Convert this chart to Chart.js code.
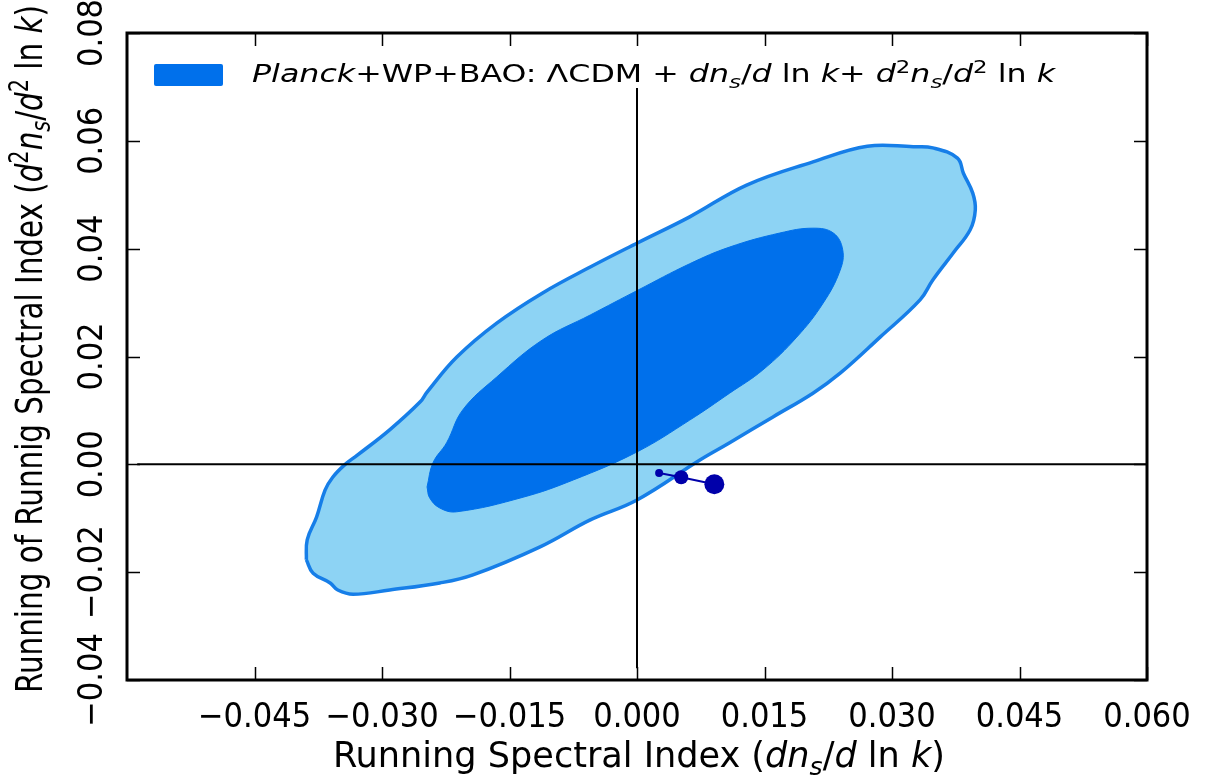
<!DOCTYPE html>
<html>
<head>
<meta charset="utf-8">
<script src="https://cdn.jsdelivr.net/npm/chart.js@4.4.1/dist/chart.umd.min.js"></script>
<style>
  html, body { margin: 0; padding: 0; background: #fff; }
  #wrap { position: relative; width: 1215px; height: 781px; }
</style>
</head>
<body>
<div id="wrap"><canvas id="runningChart"></canvas></div>
<script>
const xTicks = [-0.045, -0.030, -0.015, 0.000, 0.015, 0.030, 0.045, 0.060];
const yTicks = [-0.04, -0.02, 0.00, 0.02, 0.04, 0.06, 0.08];

// 95% region boundary
const outerX = [-0.0389, -0.0388, -0.0377, -0.0367, -0.0358, -0.0344, -0.0329, -0.0291, -0.0255, -0.0247,
  -0.0212, -0.0165, -0.0111, -0.0055, 0.0001, 0.0062, 0.0129, 0.0207, 0.0271, 0.0325,
  0.0348, 0.0377, 0.0384, 0.0395, 0.0398, 0.0392, 0.0372, 0.0348, 0.0333, 0.0286,
  0.0239, 0.0207, 0.0160, 0.0109, 0.0074, 0.0000, -0.0055, -0.0114, -0.0193, -0.0232,
  -0.0291, -0.0334, -0.0352, -0.0361, -0.0381];
const outerY = [-0.0177, -0.0140, -0.0098, -0.0048, -0.0024, -0.0001, 0.0017, 0.0064, 0.0116, 0.0134,
  0.0199, 0.0262, 0.0318, 0.0366, 0.0411, 0.0459, 0.0518, 0.0561, 0.0590, 0.0589,
  0.0587, 0.0568, 0.0540, 0.0503, 0.0472, 0.0435, 0.0392, 0.0342, 0.0305, 0.0236,
  0.0169, 0.0132, 0.0088, 0.0040, 0.0008, -0.0066, -0.0103, -0.0153, -0.0205, -0.0220,
  -0.0233, -0.0241, -0.0233, -0.0220, -0.0202];

// 68% region boundary
const innerX = [-0.0247, -0.0244, -0.0232, -0.0212, -0.0134, -0.0075, 0.0000, 0.0062, 0.0109, 0.0148,
  0.0188, 0.0219, 0.0239, 0.0242, 0.0231, 0.0207, 0.0168, 0.0109, 0.0062, 0.0001,
  -0.0055, -0.0111, -0.0165, -0.0205, -0.0224, -0.0240];
const innerY = [-0.0042, -0.0062, -0.0081, -0.0088, -0.0061, -0.0029, 0.0023, 0.0082, 0.0132, 0.0175,
  0.0236, 0.0299, 0.0360, 0.0398, 0.0429, 0.0438, 0.0429, 0.0403, 0.0372, 0.0323,
  0.0277, 0.0231, 0.0162, 0.0101, 0.0040, 0.0003];

// model predictions
const modelX = [0.0026, 0.0052, 0.0091];
const modelY = [-0.0016, -0.0024, -0.0037];

// zero reference lines
const hLineX = [-0.0588, 0.060];
const vLineY = [-0.0378, 0.0698];

const FONT = "'DejaVu Sans Condensed', 'DejaVu Sans', sans-serif";

function closed(xs, ys) {
  const pts = xs.map((x, i) => ({ x: x, y: ys[i] }));
  pts.push({ x: xs[0], y: ys[0] });
  return pts;
}

function fmt(v, digits) {
  return v.toFixed(digits).replace('-', '\u2212');
}

function fontFor(s, size) {
  if (s === 'i') return 'italic ' + size + 'px ' + FONT;
  if (s === 'sub') return 'italic ' + Math.round(size * 0.7) + 'px ' + FONT;
  if (s === 'sup') return Math.round(size * 0.7) + 'px ' + FONT;
  return size + 'px ' + FONT;
}

// text made of normal / italic / sub / sup pieces
function richWidth(ctx, parts, size) {
  let w = 0;
  parts.forEach(([t, s]) => {
    ctx.font = fontFor(s, size);
    w += ctx.measureText(t).width;
  });
  return w;
}

// fitW squeezes the whole run to a given width
function drawRich(ctx, parts, x, y, size, align, fitW) {
  const w = richWidth(ctx, parts, size);
  const sx = fitW ? fitW / w : 1;
  const x0 = align === 'center' ? x - (w * sx) / 2 : x;
  ctx.save();
  ctx.translate(x0, y);
  ctx.scale(sx, 1);
  ctx.textAlign = 'left';
  ctx.textBaseline = 'alphabetic';
  let cx = 0;
  parts.forEach(([t, s]) => {
    ctx.font = fontFor(s, size);
    let dy = 0;
    if (s === 'sub') dy = size * 0.22;
    if (s === 'sup') dy = -size * 0.38;
    ctx.fillText(t, cx, dy);
    cx += ctx.measureText(t).width;
  });
  ctx.restore();
}

const legendParts = [['Planck', 'i'], ['+WP+BAO: \u039BCDM + ', 'n'], ['dn', 'i'], ['s', 'sub'], ['/', 'n'],
  ['d', 'i'], [' ln ', 'n'], ['k', 'i'], ['+ ', 'n'], ['d', 'i'], ['2', 'sup'], ['n', 'i'], ['s', 'sub'],
  ['/', 'n'], ['d', 'i'], ['2', 'sup'], [' ln ', 'n'], ['k', 'i']];
const xTitleParts = [['Running Spectral Index (', 'n'], ['dn', 'i'], ['s', 'sub'], ['/', 'n'], ['d', 'i'],
  [' ln ', 'n'], ['k', 'i'], [')', 'n']];
const yTitleParts = [['Running of Runnig Spectral Index (', 'n'], ['d', 'i'], ['2', 'sup'], ['n', 'i'],
  ['s', 'sub'], ['/', 'n'], ['d', 'i'], ['2', 'sup'], [' ln ', 'n'], ['k', 'i'], [')', 'n']];

const framePlugin = {
  id: 'frame',
  afterDraw(chart) {
    const ctx = chart.ctx;
    const a = chart.chartArea;
    const xs = chart.scales.x, ys = chart.scales.y;
    ctx.save();
    ctx.strokeStyle = '#000';
    ctx.lineWidth = 1.5;
    const tl = 13;
    xTicks.forEach(v => {
      const px = Math.round(xs.getPixelForValue(v)) + 0.5;
      ctx.beginPath();
      ctx.moveTo(px, a.bottom); ctx.lineTo(px, a.bottom - tl);
      ctx.moveTo(px, a.top); ctx.lineTo(px, a.top + tl);
      ctx.stroke();
    });
    yTicks.forEach(v => {
      const py = Math.round(ys.getPixelForValue(v)) + 0.5;
      ctx.beginPath();
      ctx.moveTo(a.left, py); ctx.lineTo(a.left + tl, py);
      ctx.moveTo(a.right, py); ctx.lineTo(a.right - tl, py);
      ctx.stroke();
    });
    ctx.lineWidth = 3;
    ctx.strokeRect(a.left, a.top, a.right - a.left, a.bottom - a.top);

    // tick labels
    ctx.fillStyle = '#000';
    ctx.font = '34px ' + FONT;
    ctx.textAlign = 'center';
    ctx.textBaseline = 'alphabetic';
    xTicks.forEach(v => {
      ctx.fillText(fmt(v, 3), xs.getPixelForValue(v), 727);
    });
    yTicks.forEach(v => {
      ctx.save();
      ctx.translate(102, ys.getPixelForValue(v));
      ctx.rotate(-Math.PI / 2);
      ctx.fillText(fmt(v, 2), 0, 0);
      ctx.restore();
    });

    // axis titles
    drawRich(ctx, xTitleParts, 639, 767, 35, 'center', 612);
    ctx.save();
    ctx.translate(42, 349);
    ctx.rotate(-Math.PI / 2);
    drawRich(ctx, yTitleParts, 0, 0, 38, 'center', 688);
    ctx.restore();

    // legend
    ctx.fillStyle = '#0070eb';
    ctx.beginPath();
    ctx.roundRect(154, 64, 69, 22, 2);
    ctx.fill();
    ctx.fillStyle = '#000';
    drawRich(ctx, legendParts, 252, 82, 25, 'left', 803);
    ctx.restore();
  }
};

new Chart(document.getElementById('runningChart'), {
  type: 'scatter',
  data: {
    datasets: [
      {
        label: '95%',
        data: closed(outerX, outerY),
        showLine: true,
        fill: 'shape',
        backgroundColor: 'rgb(141, 211, 244)',
        borderColor: 'rgb(22, 126, 232)',
        borderWidth: 3.5,
        tension: 0.4,
        pointRadius: 0,
        order: 5,
      },
      {
        label: '68%',
        data: closed(innerX, innerY),
        showLine: true,
        fill: 'shape',
        backgroundColor: 'rgb(0, 112, 235)',
        borderColor: 'rgb(0, 112, 235)',
        borderWidth: 1,
        tension: 0.4,
        pointRadius: 0,
        order: 4,
      },
      {
        label: 'h0',
        data: hLineX.map(x => ({ x: x, y: 0 })),
        showLine: true,
        borderColor: '#000',
        borderWidth: 2,
        pointRadius: 0,
        order: 3,
      },
      {
        label: 'v0',
        data: vLineY.map(y => ({ x: 0, y: y })),
        showLine: true,
        borderColor: '#000',
        borderWidth: 2,
        pointRadius: 0,
        order: 2,
      },
      {
        label: 'models',
        data: modelX.map((x, i) => ({ x: x, y: modelY[i] })),
        showLine: true,
        borderColor: 'rgb(0, 0, 170)',
        backgroundColor: 'rgb(0, 0, 170)',
        borderWidth: 2,
        pointRadius: [4, 7, 10],
        pointBorderWidth: 0,
        order: 1,
      },
    ],
  },
  options: {
    responsive: true,
    maintainAspectRatio: false,
    animation: false,
    layout: { padding: { left: 127, right: 68, top: 33, bottom: 101 } },
    plugins: {
      legend: { display: false },
      tooltip: { enabled: false },
    },
    scales: {
      x: { type: 'linear', min: -0.06, max: 0.06, display: false },
      y: { type: 'linear', min: -0.04, max: 0.08, display: false },
    },
  },
  plugins: [framePlugin],
});
</script>
</body>
</html>
